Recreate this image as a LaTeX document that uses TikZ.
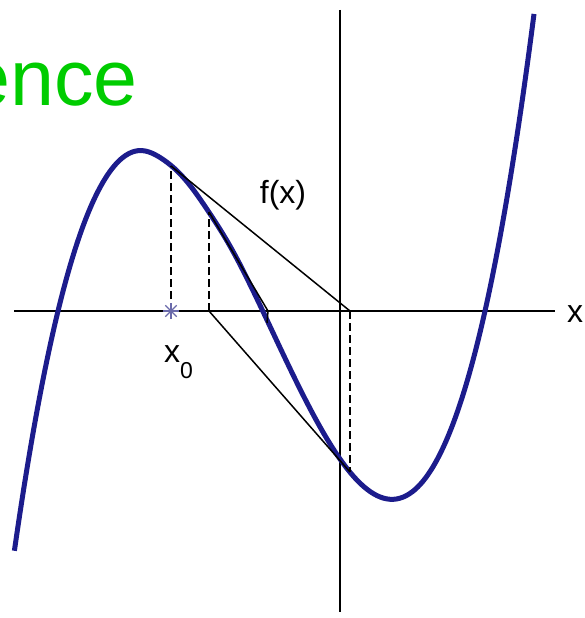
\documentclass[tikz,border=0pt]{standalone}
\usepackage{fontspec}
\setmainfont{Liberation Sans}
\usetikzlibrary{positioning, calc}
\definecolor{verde}{HTML}{00CC00}
\definecolor{azulcurva}{HTML}{1C1C8C}
\definecolor{azulmarca}{HTML}{6A6AAA}
\tikzset{
  eje/.style={line width=2pt, black},
  curva/.style={line width=5pt, azulcurva, line join=round},
  tangente/.style={line width=1.5pt, black},
  guia/.style={line width=1.5pt, black, dash pattern=on 8pt off 4pt},
  marcaeje/.style={line width=1.2pt, azulmarca},
  etiq/.style={inner sep=0pt, font=\fontsize{32}{36}\selectfont},
  titulo/.style={inner sep=0pt, text=verde, font=\fontsize{79}{88}\selectfont}
}
\begin{document}
\begin{tikzpicture}[x=1pt, y=-1pt]
  \useasboundingbox (0,0) rectangle (585,618);
  \clip (0,0) rectangle (585,618);
  % titulo cortado
  \node (tit) [titulo, anchor=base east] at (138,105) {ence};
  % ejes
  \coordinate (ejeizq) at (14,311);
  \coordinate (ejeder) at (555,311);
  \coordinate (ejesup) at (340,10);
  \coordinate (ejeinf) at (340,612);
  \draw [eje] (ejeizq) -- (ejeder);
  \draw [eje] (ejesup) -- (ejeinf);
  \node (lx) [etiq, anchor=base west] at (567,322) {x};
  % la curva (cubica con raices en 58, 263 y 485)
  \draw [curva] plot [domain=14.4:534, samples=160, smooth]
    (\x, {311 - 47*(\x/100-0.58)*(\x/100-2.63)*(\x/100-4.85)
          + 8/(1+((\x-185)/40)^4)});
  \node (lf) [etiq, anchor=base] at (283,203) {f(x)};
  % iteraciones
  \coordinate (a0) at (171,311);
  \coordinate (c0) at (171,166);
  \coordinate (a1) at (350,311);
  \coordinate (c1) at (350,472);
  \coordinate (a2) at (209,311);
  \coordinate (c2) at (209,212);
  \coordinate (a3) at (268,311);
  \coordinate (a3b) at (267,323);
  \draw [guia] (a0) -- (c0);
  \draw [tangente] (c0) -- (a1);
  \draw [guia] (a1) -- (c1);
  \draw [tangente] (c1) -- (a2);
  \draw [guia] (a2) -- (c2);
  \draw [tangente] (c2) -- (a3) -- (a3b);
  % punto inicial
  \foreach \ang in {0,45,90,135}
    \draw [marcaeje] (a0) ++(\ang:8) -- ++(\ang+180:16);
  \node (lx0) [etiq, anchor=base west] at (164,362)
    {x\raisebox{-16pt}{\fontsize{23}{26}\selectfont 0}};
\end{tikzpicture}
\end{document}
